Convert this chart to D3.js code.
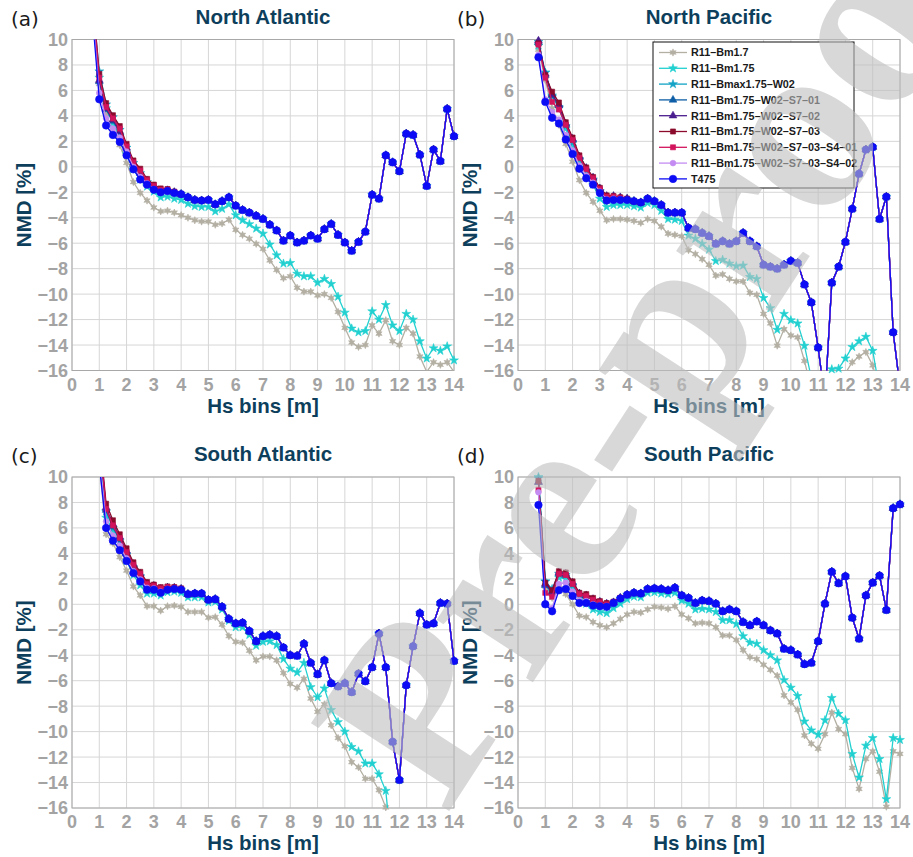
<!DOCTYPE html>
<html>
<head>
<meta charset="utf-8">
<script src="https://cdn.jsdelivr.net/npm/d3@7"></script>
<style>
  body { margin: 0; background: #fff; }
  text { font-family: "Liberation Sans", Arial, sans-serif; }
</style>
</head>
<body>
<svg id="chart" width="913" height="857"></svg>
<script>
// Hs bin centres [m]
const hs = [0.75, 1, 1.25, 1.5, 1.75, 2, 2.25, 2.5, 2.75, 3, 3.25, 3.5, 3.75, 4,
    4.25, 4.5, 4.75, 5, 5.25, 5.5, 5.75, 6, 6.25, 6.5, 6.75, 7, 7.25, 7.5, 7.75, 8,
    8.25, 8.5, 8.75, 9, 9.25, 9.5, 9.75, 10, 10.25, 10.5, 10.75, 11, 11.25, 11.5, 11.75, 12,
    12.25, 12.5, 12.75, 13, 13.25, 13.5, 13.75, 14];

const seriesNames = ["R11–Bm1.7", "R11–Bm1.75", "R11–Bmax1.75–W02", "R11–Bm1.75–W02–S7–01",
    "R11–Bm1.75–W02–S7–02", "R11–Bm1.75–W02–S7–03", "R11–Bm1.75–W02–S7–03–S4–01",
    "R11–Bm1.75–W02–S7–03–S4–02", "T475"];
const seriesColors = ["#b3afa3", "#22d0d0", "#12a3c6", "#0d5ea6", "#4a1d8e", "#8a0b2c", "#d2145c", "#c48cf2", "#0b0bf5"];

const panelTitles = ["North Atlantic", "North Pacific", "South Atlantic", "South Pacific"];
const panelLetters = ["(a)", "(b)", "(c)", "(d)"];
const xTicks = [0, 1, 2, 3, 4, 5, 6, 7, 8, 9, 10, 11, 12, 13, 14];
const yTicks = [-16, -14, -12, -10, -8, -6, -4, -2, 0, 2, 4, 6, 8, 10];

// ---- (a) North Atlantic ----
const naGray = [12.0, 6.5, 4.1, 2.8, 1.7, 0.3, -1.2, -2.05, -2.65, -3.2, -3.5, -3.45, -3.6, -3.8,
    -4.0, -4.2, -4.3, -4.3, -4.55, -4.45, -4.15, -4.95, -5.35, -5.65, -6.05, -6.45, -7.35, -8.1, -8.75, -8.6,
    -9.5, -9.8, -9.8, -10.1, -10.0, -10.3, -11.4, -12.65, -13.8, -14.15, -14.0, -12.45, -13.1, -12.05, -13.7, -14.0,
    -12.65, -13.1, -14.9, -16.1, -15.35, -15.55, -15.35, -16.1];
const naCyan = [12.5, 7.0, 4.6, 3.4, 2.4, 1.0, -0.2, -1.0, -1.55, -1.95, -2.4, -2.35, -2.5, -2.6,
    -2.9, -3.1, -3.15, -3.15, -3.5, -3.3, -2.95, -3.8, -4.2, -4.5, -4.85, -5.25, -6.1, -6.95, -7.6, -7.55,
    -8.4, -8.6, -8.6, -9.1, -8.8, -9.2, -10.2, -11.45, -12.7, -13.0, -12.9, -11.35, -12.0, -10.85, -12.45, -12.9,
    -11.55, -12.0, -13.7, -15.05, -14.25, -14.45, -14.1, -15.2];
const naT475 = [11.8, 5.3, 3.25, 2.5, 1.95, 0.9, -0.2, -1.0, -1.4, -1.8, -2.0, -1.9, -2.05, -2.15,
    -2.4, -2.6, -2.65, -2.6, -2.95, -2.7, -2.4, -3.05, -3.4, -3.6, -3.85, -4.1, -4.55, -5.0, -5.8, -5.4,
    -5.95, -5.8, -5.4, -5.65, -4.9, -4.5, -5.35, -5.95, -6.6, -5.9, -5.1, -2.2, -2.5, 0.9, 0.35, -0.35,
    2.6, 2.5, 0.95, -1.5, 1.35, 0.45, 4.55, 2.4];
// W02 runs differ from T475 only below 4 m; above that they lie under the T475 curve
const naBmax = [12.9, 7.5, 4.9, 3.9, 2.9, 1.5, 0.3, -0.5, -1.2, -1.65, -1.95, -1.9, -2.05, -2.15];
const naS701 = [12.7, 6.7, 4.5, 3.6, 2.7, 1.4, 0.2, -0.5, -1.15, -1.6, -1.9, -1.85, -2.0, -2.15];
const naS702 = [12.8, 6.8, 4.6, 3.7, 2.8, 1.5, 0.3, -0.4, -1.1, -1.55, -1.85, -1.85, -2.0, -2.15];
const naS703 = [13.5, 7.3, 5.0, 4.05, 3.2, 1.8, 0.5, -0.15, -0.95, -1.4, -1.7, -1.75, -1.95, -2.15];
const naS401 = [13.0, 7.0, 4.7, 3.8, 3.0, 1.6, 0.35, -0.3, -1.05, -1.5, -1.8, -1.8, -2.0, -2.15];
const naS402 = [12.2, 5.8, 3.8, 3.0, 2.3, 1.2, 0.0, -0.8, -1.3, -1.75, -1.95, -1.9, -2.05, -2.15];

// ---- (b) North Pacific ----
const npGray = [9.2, 6.8, 4.6, 3.3, 1.8, 0.4, -1.05, -2.05, -2.75, -3.45, -4.2, -4.1, -4.1, -4.15,
    -4.25, -4.4, -4.1, -4.25, -4.7, -5.25, -5.35, -5.45, -6.55, -6.85, -7.25, -7.7, -8.55, -8.45, -8.8, -9.0,
    -9.0, -9.9, -10.05, -11.55, -12.3, -14.05, -12.75, -13.25, -13.4, -15.25, -17.5, -19.0, -19.0, -18.0, -17.0, -16.2,
    -15.35, -14.9, -14.55, -15.6, -17.5, -19.0, -19.0, -19.0];
const npCyan = [9.5, 7.4, 5.5, 4.7, 3.0, 1.6, 0.3, -0.6, -1.4, -2.5, -3.15, -3.0, -3.0, -3.0,
    -3.1, -3.2, -2.85, -3.0, -3.45, -4.1, -4.15, -4.25, -5.4, -5.65, -6.05, -6.5, -7.4, -7.3, -7.6, -7.8,
    -7.75, -8.65, -8.8, -10.3, -11.1, -12.8, -11.55, -12.05, -12.3, -14.05, -16.6, -18.0, -17.5, -15.9, -15.85, -15.05,
    -14.15, -13.7, -13.35, -14.45, -17.5, -18.0, -18.0, -18.0];
const npT475 = [8.6, 5.1, 3.85, 3.4, 2.15, 1.0, -0.15, -0.9, -1.4, -2.05, -2.65, -2.6, -2.6, -2.6,
    -2.7, -2.8, -2.5, -2.7, -3.0, -3.6, -3.6, -3.6, -4.8, -4.9, -5.2, -5.45, -6.05, -5.85, -6.05, -5.85,
    -5.2, -5.85, -6.25, -7.7, -7.85, -8.0, -7.7, -7.4, -7.55, -9.25, -10.65, -14.2, -18.3, -9.1, -7.85, -5.9,
    -3.3, -0.55, 1.35, 1.55, -4.1, -2.35, -13.0, -17.3];
const npBmax = [9.8, 7.4, 5.6, 4.6, 3.2, 1.9, 0.6, -0.3, -1.0, -1.9, -2.5, -2.45, -2.5, -2.55];
const npS701 = [9.8, 7.2, 5.6, 4.8, 3.3, 2.1, 0.75, -0.15, -0.9, -1.75, -2.35, -2.35, -2.45, -2.55];
const npS702 = [9.9, 7.3, 5.7, 4.9, 3.4, 2.2, 0.8, -0.1, -0.85, -1.7, -2.3, -2.3, -2.4, -2.5];
const npS703 = [9.7, 7.2, 5.9, 5.05, 3.5, 2.3, 0.9, -0.05, -0.8, -1.65, -2.25, -2.3, -2.4, -2.5];
const npS401 = [9.6, 7.0, 5.1, 4.5, 3.3, 2.1, 0.7, -0.2, -0.9, -1.75, -2.35, -2.35, -2.45, -2.55];
const npS402 = [8.8, 5.3, 4.3, 3.7, 2.5, 1.3, 0.1, -0.7, -1.25, -1.95, -2.55, -2.5, -2.55, -2.6];

// ---- (c) South Atlantic ----
const saGray = [null, 11.0, 5.5, 4.8, 3.7, 2.65, 1.4, 0.7, -0.15, -0.15, -0.5, -0.15, -0.1, -0.2,
    -0.6, -0.6, -0.6, -1.05, -1.0, -1.6, -2.5, -2.95, -3.0, -3.65, -4.4, -4.1, -4.1, -4.4, -5.4, -6.25,
    -6.55, -5.85, -7.4, -8.45, -7.85, -9.5, -10.5, -11.15, -12.4, -12.8, -13.7, -13.7, -14.6, -15.95, -20.0, null,
    null, null, null, null, null, null, null, null];
const saCyan = [null, 12.5, 6.8, 5.8, 4.6, 3.4, 2.3, 1.5, 0.85, 0.85, 0.7, 0.95, 1.0, 0.9,
    0.55, 0.55, 0.55, 0.15, 0.2, -0.4, -1.3, -1.8, -1.8, -2.4, -3.25, -2.95, -2.9, -3.2, -4.3, -5.05,
    -5.35, -4.6, -6.5, -7.3, -6.6, -8.3, -9.25, -10.0, -11.2, -11.55, -12.5, -12.5, -13.35, -14.65, -20.0, null,
    null, null, null, null, null, null, null, null];
const saT475 = [null, 11.0, 6.0, 5.0, 4.25, 3.4, 2.45, 1.8, 1.15, 1.15, 0.9, 1.15, 1.2, 1.15,
    0.8, 0.85, 0.85, 0.35, 0.4, -0.2, -1.15, -1.5, -1.45, -2.1, -2.9, -2.5, -2.4, -2.5, -3.4, -4.0,
    -4.05, -3.1, -4.6, -5.5, -4.4, -6.2, -6.45, -6.2, -6.9, -5.45, -6.05, -4.95, -2.3, -4.95, -10.8, -13.8,
    -6.35, -3.3, -0.7, -1.6, -1.5, 0.1, 0.05, -4.45];
const saBmax = [null, 13.0, 7.3, 6.0, 5.0, 3.9, 2.9, 2.2, 1.4, 1.3, 1.05, 1.25, 1.25, 1.15];
const saS701 = [null, 13.0, 7.4, 6.1, 5.1, 4.0, 3.0, 2.3, 1.5, 1.4, 1.15, 1.3, 1.25, 1.2];
const saS702 = [null, 13.2, 7.6, 6.3, 5.3, 4.2, 3.15, 2.4, 1.6, 1.45, 1.2, 1.3, 1.3, 1.2];
const saS703 = [null, 13.5, 7.9, 6.6, 5.5, 4.4, 3.3, 2.55, 1.75, 1.55, 1.35, 1.4, 1.35, 1.25];
const saS401 = [null, 13.0, 7.5, 6.2, 5.2, 4.1, 3.1, 2.4, 1.6, 1.45, 1.25, 1.35, 1.3, 1.2];
const saS402 = [null, 11.5, 6.5, 5.4, 4.6, 3.6, 2.6, 1.95, 1.3, 1.25, 1.0, 1.2, 1.2, 1.15];

// ---- (d) South Pacific ----
const spGray = [9.6, 1.4, 0.5, 1.5, 0.8, 0.0, -0.9, -1.0, -1.4, -1.65, -1.8, -1.5, -1.15, -0.8,
    -0.6, -0.65, -0.4, -0.2, -0.25, -0.35, -0.15, -0.8, -1.1, -1.5, -1.45, -1.5, -1.8, -2.45, -2.45, -2.8,
    -3.6, -4.15, -4.3, -4.75, -5.15, -5.6, -7.15, -7.7, -8.3, -10.3, -10.95, -11.35, -10.2, -8.5, -9.8, -10.2,
    -12.85, -14.5, -12.15, -11.55, -13.15, -15.9, -11.55, -11.75];
const spCyan = [10.0, 1.8, 1.0, 2.1, 2.0, 1.1, 0.3, 0.05, -0.4, -0.6, -0.7, -0.3, 0.05, 0.4,
    0.6, 0.55, 0.9, 0.95, 0.85, 0.8, 0.9, 0.3, 0.05, -0.4, -0.35, -0.4, -0.6, -1.25, -1.25, -1.55,
    -2.5, -3.0, -3.1, -3.6, -4.0, -4.4, -5.95, -6.55, -7.2, -9.2, -9.9, -10.25, -9.1, -7.35, -8.6, -9.1,
    -11.75, -13.6, -11.1, -10.5, -12.15, -15.3, -10.5, -10.65];
const spT475 = [7.8, 0.0, -0.55, 1.1, 1.2, 0.65, 0.1, 0.1, -0.1, -0.15, -0.2, 0.1, 0.45, 0.75,
    0.9, 0.85, 1.2, 1.25, 1.2, 1.1, 1.3, 0.7, 0.5, 0.1, 0.3, 0.25, 0.05, -0.55, -0.4, -0.55,
    -1.4, -1.65, -1.35, -1.65, -2.05, -2.3, -3.5, -3.6, -3.95, -4.7, -4.6, -2.9, 0.05, 2.55, 1.65, 2.2,
    -1.05, -2.7, 0.7, 1.7, 2.25, -0.45, 7.55, 7.85];
const spBmax = [9.9, 1.8, 1.2, 2.4, 2.3, 1.5, 0.6, 0.45, 0.1, -0.1, -0.2, 0.05, 0.45, 0.75];
const spS701 = [9.6, 1.5, 0.9, 2.4, 2.3, 1.6, 0.8, 0.65, 0.35, 0.15, 0.0, 0.15, 0.5, 0.75];
const spS702 = [9.6, 1.6, 1.0, 2.5, 2.4, 1.7, 0.85, 0.7, 0.4, 0.2, 0.05, 0.15, 0.5, 0.75];
const spS703 = [9.7, 1.7, 1.1, 2.6, 2.5, 1.8, 0.9, 0.8, 0.5, 0.25, 0.1, 0.2, 0.5, 0.75];
const spS401 = [9.0, 0.9, 0.6, 2.4, 2.3, 1.6, 0.8, 0.65, 0.35, 0.15, 0.0, 0.15, 0.5, 0.75];
const spS402 = [8.8, 0.1, -0.3, 1.6, 1.7, 1.0, 0.3, 0.25, 0.0, -0.1, -0.15, 0.1, 0.45, 0.75];

// low-Hs part + shared T475 curve beyond 4 m
function withT475(head, t475) {
    return head.concat(t475.slice(head.length));
}

function panelSeries(gray, cyan, bmax, s701, s702, s703, s401, s402, t475) {
    return [gray, cyan, withT475(bmax, t475), withT475(s701, t475), withT475(s702, t475),
        withT475(s703, t475), withT475(s401, t475), withT475(s402, t475), t475];
}

const panelData = [
    panelSeries(naGray, naCyan, naBmax, naS701, naS702, naS703, naS401, naS402, naT475),
    panelSeries(npGray, npCyan, npBmax, npS701, npS702, npS703, npS401, npS402, npT475),
    panelSeries(saGray, saCyan, saBmax, saS701, saS702, saS703, saS401, saS402, saT475),
    panelSeries(spGray, spCyan, spBmax, spS701, spS702, spS703, spS401, spS402, spT475)
];

// small filled six-point star (MATLAB hexagram-ish)
const hexStar = {
    draw(ctx, size) {
        let ro = Math.sqrt(size) * 0.62, ri = ro * 0.5;
        for (let i = 0; i < 12; i++) {
            let a = i * Math.PI / 6 - Math.PI / 2, r = i % 2 ? ri : ro;
            if (i === 0) ctx.moveTo(r * Math.cos(a), r * Math.sin(a));
            else ctx.lineTo(r * Math.cos(a), r * Math.sin(a));
        }
        ctx.closePath();
    }
};
const seriesSymbols = [hexStar, d3.symbolStar, d3.symbolStar, d3.symbolTriangle, d3.symbolTriangle,
    d3.symbolSquare, d3.symbolSquare, d3.symbolCircle, d3.symbolCircle];
const symbolSizes = [34, 24, 24, 26, 26, 26, 26, 26, 44];

const svg = d3.select("#chart");
svg.append("rect").attr("width", 913).attr("height", 857).attr("fill", "#fff");

const plotW = 382, plotH = 331;
const origins = [[72, 39.5], [518, 39.5], [72, 477], [518, 477]];
const labelColor = "#0d3f5c";

let xScale = d3.scaleLinear().domain([0, 14]).range([0, plotW]),
    yScale = d3.scaleLinear().domain([-16, 10]).range([plotH, 0]);

const fmt = v => v < 0 ? "\u2212" + Math.abs(v) : String(v);

panelData.forEach(function (series, p) {
    let [ox, oy] = origins[p];
    let g = svg.append("g").attr("transform", "translate(" + ox + "," + oy + ")");

    // grid
    g.append("g").selectAll("line").data(xTicks).join("line")
        .attr("x1", d => xScale(d)).attr("x2", d => xScale(d))
        .attr("y1", 0).attr("y2", plotH)
        .attr("stroke", "#d6d6d6").attr("stroke-width", 1);
    g.append("g").selectAll("line").data(yTicks).join("line")
        .attr("x1", 0).attr("x2", plotW)
        .attr("y1", d => yScale(d)).attr("y2", d => yScale(d))
        .attr("stroke", "#d6d6d6").attr("stroke-width", 1);

    // frame
    g.append("rect").attr("width", plotW).attr("height", plotH)
        .attr("fill", "none").attr("stroke", "#a8a8a8").attr("stroke-width", 1);

    // tick labels
    g.append("g").selectAll("text").data(yTicks).join("text")
        .attr("x", -4).attr("y", d => yScale(d)).attr("dy", "0.36em")
        .attr("text-anchor", "end")
        .attr("font-size", 18).attr("font-weight", "bold").attr("fill", "#a3a3a3")
        .text(fmt);
    g.append("g").selectAll("text").data(xTicks).join("text")
        .attr("x", d => xScale(d)).attr("y", plotH + 20)
        .attr("text-anchor", "middle")
        .attr("font-size", 18).attr("font-weight", "bold").attr("fill", "#a3a3a3")
        .text(fmt);

    // labels
    g.append("text").attr("x", plotW / 2).attr("y", plotH + 42)
        .attr("text-anchor", "middle").attr("font-size", 20.5).attr("font-weight", "bold")
        .attr("fill", labelColor).text("Hs bins [m]");
    g.append("text").attr("transform", "translate(-41," + (plotH / 2) + ") rotate(-90)")
        .attr("text-anchor", "middle").attr("font-size", 20.5).attr("font-weight", "bold")
        .attr("fill", labelColor).text("NMD [%]");
    g.append("text").attr("x", plotW / 2).attr("y", -16)
        .attr("text-anchor", "middle").attr("font-size", 20.5).attr("font-weight", "bold")
        .attr("fill", labelColor).text(panelTitles[p]);
    g.append("text").attr("x", -61).attr("y", -14)
        .attr("font-size", 20).attr("fill", "#1a1a1a")
        .style("font-family", "'DejaVu Sans', sans-serif")
        .text(panelLetters[p]);

    // clip for lines
    let clipId = "clip" + p;
    g.append("clipPath").attr("id", clipId)
        .append("rect").attr("width", plotW).attr("height", plotH);

    let line = d3.line()
        .defined(d => d.v !== null)
        .x(d => xScale(d.x)).y(d => yScale(d.v));

    series.forEach(function (vals, s) {
        let pts = hs.map((x, i) => ({x: x, v: vals[i] === undefined ? null : vals[i]}));
        g.append("path").datum(pts)
            .attr("clip-path", "url(#" + clipId + ")")
            .attr("d", line)
            .attr("fill", "none")
            .attr("stroke", seriesColors[s])
            .attr("stroke-width", 1.3);
        let sym = d3.symbol().type(seriesSymbols[s]).size(symbolSizes[s]);
        g.append("g").selectAll("path")
            .data(pts.filter(d => d.v !== null && d.v >= -16 && d.v <= 10))
            .join("path")
            .attr("transform", d => "translate(" + xScale(d.x) + "," + yScale(d.v) + ")")
            .attr("d", sym)
            .attr("fill", seriesColors[s])
            .attr("stroke", seriesColors[s])
            .attr("stroke-width", 0.6);
    });

    // legend in North Pacific panel
    if (p === 1) {
        let lx = 653 - ox, ly = 42 - oy;
        let legend = g.append("g").attr("transform", "translate(" + lx + "," + ly + ")");
        legend.append("rect").attr("width", 201).attr("height", 146)
            .attr("fill", "#fff").attr("stroke", "#111").attr("stroke-width", 1);
        seriesNames.forEach(function (name, s) {
            let ry = 10.5 + s * 15.8;
            legend.append("line").attr("x1", 6).attr("x2", 34).attr("y1", ry).attr("y2", ry)
                .attr("stroke", seriesColors[s]).attr("stroke-width", 1.3);
            legend.append("path").attr("transform", "translate(20," + ry + ")")
                .attr("d", d3.symbol().type(seriesSymbols[s]).size(symbolSizes[s])())
                .attr("fill", seriesColors[s]).attr("stroke", seriesColors[s]).attr("stroke-width", 0.6);
            legend.append("text").attr("x", 38).attr("y", ry).attr("dy", "0.36em")
                .attr("font-size", 10.8).attr("font-weight", "bold").attr("fill", "#1a1a1a")
                .text(name);
        });
    }
});

// "Pre-proof" watermark across the figure
let wm = svg.append("g").attr("pointer-events", "none")
    .attr("transform", "translate(446,816) rotate(-57)");
wm.append("text")
    .attr("x", 0).attr("y", 0)
    .attr("font-size", 250).attr("font-weight", "bold")
    .style("font-family", "'Liberation Serif', serif")
    .attr("fill", "#bebebe").attr("fill-opacity", 0.6)
    .text("Pre-proof");
</script>
</body>
</html>
